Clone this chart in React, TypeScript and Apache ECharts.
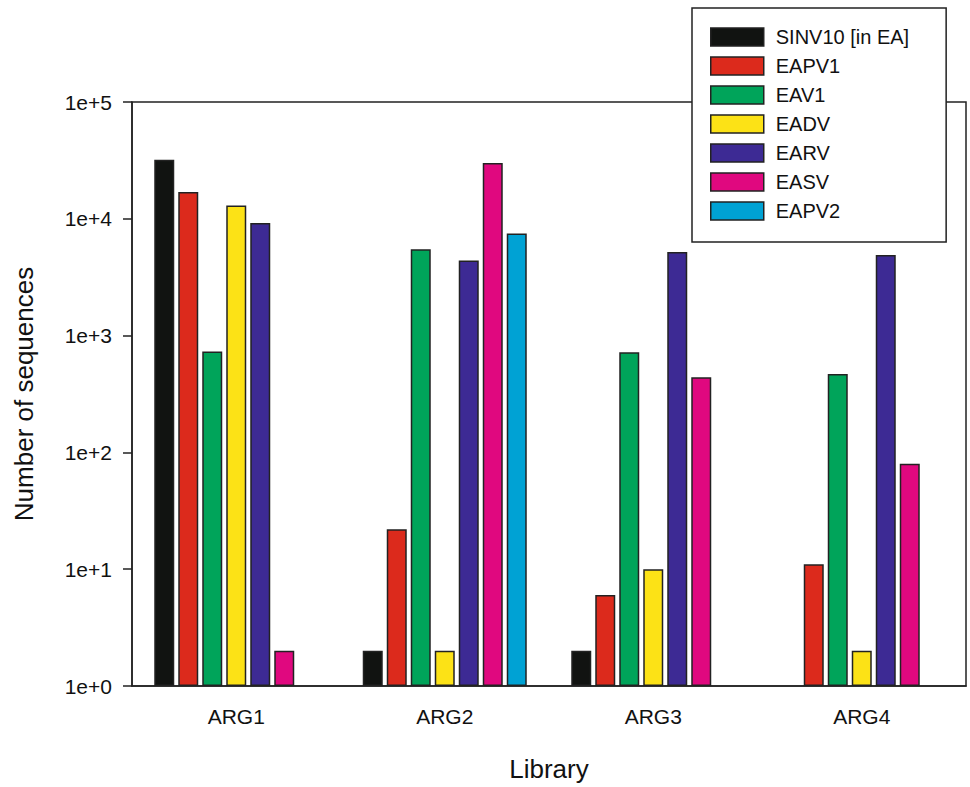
import React, { useEffect, useRef } from "react";
import * as echarts from "echarts";

const categories = ["ARG1", "ARG2", "ARG3", "ARG4"];
const seriesNames = ["SINV10 [in EA]", "EAPV1", "EAV1", "EADV", "EARV", "EASV", "EAPV2"];
const sinv10 = [32000, 2, 2, null];
const eapv1 = [17000, 22, 6, 11];
const eav1 = [730, 5500, 720, 470];
const eadv = [13000, 2, 10, 2];
const earv = [9200, 4400, 5200, 4900];
const easv = [2, 30000, 440, 80];
const eapv2 = [null, 7500, null, null];
const colors = ["#111311", "#DC2A1C", "#00A45A", "#FCE216", "#3D2A94", "#E0087F", "#00A2D4"];
const yTicks = [1, 10, 100, 1000, 10000, 100000];

const FONT = "Liberation Sans, Arial, sans-serif";

export default function App() {
  const ref = useRef<HTMLDivElement>(null);
  useEffect(() => {
    if (!ref.current) return;
    const chart = echarts.init(ref.current, null, { renderer: "svg" });
    const allData = [sinv10, eapv1, eav1, eadv, earv, easv, eapv2];
    chart.setOption({
      animation: false,
      backgroundColor: "#fff",
      textStyle: { fontFamily: FONT, color: "#111" },
      grid: {
        left: 132,
        right: 4,
        top: 102,
        bottom: 100,
        show: true,
        borderColor: "#222",
        borderWidth: 1.5,
        backgroundColor: "transparent",
      },
      legend: {
        orient: "vertical",
        left: 692,
        top: 8,
        padding: [19, 37, 21, 18],
        backgroundColor: "#fff",
        borderColor: "#222",
        borderWidth: 1.5,
        icon: "rect",
        itemWidth: 53,
        itemHeight: 18,
        itemGap: 9,
        z: 10,
        textStyle: { fontFamily: FONT, fontSize: 20, color: "#111", padding: [0, 0, 0, 7] },
        itemStyle: { borderColor: "#222", borderWidth: 1.5 },
        data: seriesNames,
      },
      xAxis: {
        type: "category",
        data: categories,
        name: "Library",
        nameLocation: "middle",
        nameGap: 70,
        nameTextStyle: { fontFamily: FONT, fontSize: 26, color: "#111" },
        axisLine: { lineStyle: { color: "#222", width: 1.5 } },
        axisTick: { alignWithLabel: true, length: 8, lineStyle: { color: "#222", width: 1.5 } },
        axisLabel: { fontFamily: FONT, fontSize: 21, color: "#111", margin: 20 },
      },
      yAxis: {
        type: "log",
        logBase: 10,
        min: yTicks[0],
        max: yTicks[yTicks.length - 1],
        name: "Number of sequences",
        nameLocation: "middle",
        nameGap: 95,
        nameTextStyle: { fontFamily: FONT, fontSize: 26, color: "#111" },
        splitLine: { show: false },
        axisLine: { show: true, lineStyle: { color: "#222", width: 1.5 } },
        axisTick: { show: true, length: 9, lineStyle: { color: "#222", width: 1.5 } },
        axisLabel: {
          fontFamily: FONT,
          fontSize: 21,
          color: "#111",
          margin: 20,
          formatter: (v: number) => "1e+" + Math.round(Math.log10(v)),
        },
      },
      series: seriesNames.map((name, i) => ({
        name,
        type: "bar",
        data: allData[i],
        barWidth: 20,
        barGap: "20%",
        itemStyle: { color: colors[i], borderColor: "#222", borderWidth: 1.5 },
      })),
    });
    return () => chart.dispose();
  }, []);
  return (
    <div
      ref={ref}
      style={{ position: "absolute", left: 0, top: 0, width: 970, height: 787 }}
    />
  );
}
